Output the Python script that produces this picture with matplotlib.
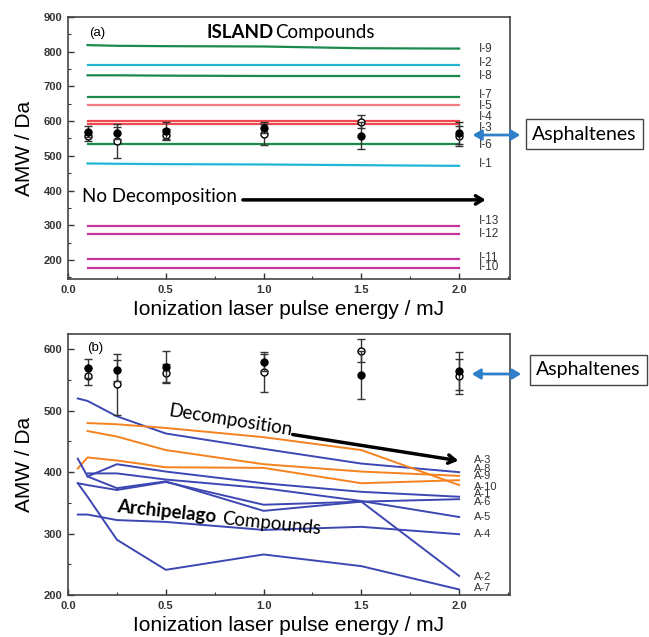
import numpy as np
import matplotlib.pyplot as plt
from matplotlib.patches import FancyArrowPatch
from matplotlib.ticker import MultipleLocator

# pulse energies (mJ)
energy_a = [0.1, 0.25, 0.5, 1.0, 1.5, 2.0]
energy_b = [0.05, 0.1, 0.25, 0.5, 1.0, 1.5, 2.0]

# asphaltene AMW, two sets of measurements with error bars
asph_filled = [569, 566, 572, 579, 558, 565]
asph_filled_err = [16, 17, 25, 14, 39, 31]
asph_open = [556, 543, 561, 563, 598, 556]
asph_open_err = [14, 50, 15, 33, 19, 29]

# island model compounds
island_names = ["I-9", "I-2", "I-8", "I-7", "I-5", "I-4", "I-3",
                "I-6", "I-1", "I-13", "I-12", "I-11", "I-10"]
i9 = [819, 817, 816, 815, 810, 809]
i2 = [762, 762, 762, 762, 762, 762]
i8 = [732, 732, 731, 730, 730, 730]
i7 = [670, 670, 670, 670, 670, 670]
i5 = [647, 647, 647, 647, 647, 647]
i4 = [600, 600, 600, 600, 600, 600]
i3 = [593, 593, 593, 593, 593, 593]
i6 = [534, 534, 534, 534, 534, 534]
i1 = [478, 477, 476, 475, 473, 471]
i13 = [298, 298, 298, 298, 298, 298]
i12 = [276, 276, 276, 276, 276, 276]
i11 = [202, 202, 202, 202, 202, 202]
i10 = [177, 177, 177, 177, 177, 177]
island_amw = [i9, i2, i8, i7, i5, i4, i3, i6, i1, i13, i12, i11, i10]
island_label_y = [808, 767, 731, 676, 644, 613, 580, 530, 475, 313, 275, 205, 181]

# archipelago model compounds (nan = not measured)
nan = np.nan
arch_names = ["A-3", "A-8", "A-9", "A-10", "A-1", "A-6", "A-5", "A-4", "A-2", "A-7"]
a3 = [520, 516, 491, 463, 438, 414, 400]
a8 = [nan, 467, 458, 436, 413, 401, 394]
a9 = [406, 424, 419, 408, 407, 382, 387]
a10 = [nan, 480, 478, 472, 457, 436, 379]
a1 = [nan, 393, 413, 401, 382, 368, 360]
a6 = [422, 393, 374, 385, 337, 352, 356]
a5 = [nan, 398, 398, 388, 374, 353, 327]
a4 = [331, 331, 322, 319, 306, 311, 299]
a2 = [382, 379, 371, 384, 347, 352, 231]
a7 = [382, 360, 290, 241, 266, 247, 209]
arch_amw = [a3, a8, a9, a10, a1, a6, a5, a4, a2, a7]
arch_label_y = [420, 405, 394, 376, 364, 352, 327, 300, 230, 212]

GREEN = "#1b8a4f"
CYAN = "#22b5d3"
RED = "#f0484f"
PINK = "#f27d80"
MAGENTA = "#c8359a"
BLUE = "#3d47b3"
ORANGE = "#f5821f"
island_colors = [GREEN, CYAN, GREEN, GREEN, PINK, RED, RED, GREEN, CYAN,
                 MAGENTA, MAGENTA, MAGENTA, MAGENTA]
arch_colors = [BLUE, ORANGE, ORANGE, ORANGE, BLUE, BLUE, BLUE, BLUE, BLUE, BLUE]

plt.rcParams["font.family"] = ["Liberation Sans", "DejaVu Sans"]
ANNOT = ["Lato", "DejaVu Sans"]
FS = 13.5
W, H = 649, 637

fig = plt.figure(figsize=(W / 100, H / 100), dpi=100)
ax_a = fig.add_axes([68 / W, 1 - 279 / H, 442 / W, 262 / H])
ax_b = fig.add_axes([68 / W, 1 - 595 / H, 442 / W, 261 / H])


def style_axes(ax):
    ax.set_xlim(0, 2.26)
    ax.xaxis.set_major_locator(MultipleLocator(0.5))
    ax.xaxis.set_minor_locator(MultipleLocator(0.25))
    ax.yaxis.set_major_locator(MultipleLocator(100))
    ax.yaxis.set_minor_locator(MultipleLocator(50))
    ax.tick_params(which="both", direction="in", top=False, right=False,
                   colors="#333333", labelsize=8, pad=4)
    ax.tick_params(which="major", length=4, width=1)
    ax.tick_params(which="minor", length=2.5, width=0.8)
    for lab in ax.get_xticklabels() + ax.get_yticklabels():
        lab.set_fontweight("bold")
    for sp in ax.spines.values():
        sp.set_color("#444444")
        sp.set_linewidth(1.2)
    ax.set_xlabel("Ionization laser pulse energy / mJ", fontsize=15, labelpad=4)
    ax.set_ylabel("AMW / Da", fontsize=15, labelpad=7)


def draw_asphaltenes(ax):
    ax.errorbar(energy_a, asph_open, yerr=asph_open_err, fmt="o", ms=5,
                mfc="white", mec="black", mew=1, ecolor="#333333",
                elinewidth=1, capsize=3, zorder=5)
    ax.errorbar(energy_a, asph_filled, yerr=asph_filled_err, fmt="o", ms=5,
                mfc="black", mec="black", ecolor="#333333",
                elinewidth=1, capsize=3, zorder=6)


# (a) island compounds
for name, vals, col, ly in zip(island_names, island_amw, island_colors, island_label_y):
    ax_a.plot(energy_a, vals, color=col, lw=1.6)
    ax_a.text(2.10, ly, name, fontsize=8.5, color="#333333", va="center")
draw_asphaltenes(ax_a)
ax_a.set_ylim(145, 900)
style_axes(ax_a)
ax_a.text(0.11, 855, "(a)", fontsize=9.5, va="center")
ax_a.text(0.71, 855, "ISLAND", fontsize=FS, fontweight="bold", family=ANNOT, va="center")
ax_a.text(1.06, 855, "Compounds", fontsize=FS, family=ANNOT, va="center")
ax_a.text(0.07, 382, "No Decomposition", fontsize=FS, family=ANNOT, va="center")
ax_a.annotate("", xy=(2.15, 373), xytext=(0.88, 373),
              arrowprops=dict(arrowstyle="->,head_length=0.5,head_width=0.3",
                              lw=2.5, color="black"))

# (b) archipelago compounds
for name, vals, col, ly in zip(arch_names, arch_amw, arch_colors, arch_label_y):
    ax_b.plot(energy_b, vals, color=col, lw=1.4)
    ax_b.text(2.075, ly, name, fontsize=8, color="#333333", va="center")
draw_asphaltenes(ax_b)
ax_b.set_ylim(200, 625)
style_axes(ax_b)
ax_b.text(0.10, 602, "(b)", fontsize=9.5, va="center")
ax_b.text(0.513, 501, "Decomposition", fontsize=FS, family=ANNOT, va="center",
          rotation=-9, rotation_mode="anchor")
ax_b.annotate("", xy=(2.01, 418), xytext=(1.135, 462),
              arrowprops=dict(arrowstyle="->,head_length=0.5,head_width=0.3",
                              lw=2.5, color="black"))
ax_b.text(0.252, 344, "Archipelago", fontsize=FS, fontweight="bold", family=ANNOT,
          va="center", rotation=-6, rotation_mode="anchor")
ax_b.text(0.79, 325, "Compounds", fontsize=FS, family=ANNOT,
          va="center", rotation=-6, rotation_mode="anchor")

# asphaltene callouts to the right of both panels
for (x0, x1, ya, xc, yc) in [(470, 523, 135, 584.5, 134), (469, 524, 374, 588.5, 370)]:
    fig.text(xc / W, 1 - yc / H, "Asphaltenes", fontsize=14, family=ANNOT,
             ha="center", va="center",
             bbox=dict(boxstyle="square,pad=0.33", fc="white", ec="#444444", lw=1))
    fig.add_artist(FancyArrowPatch((x0 / W, 1 - ya / H), (x1 / W, 1 - ya / H),
                                   transform=fig.transFigure,
                                   arrowstyle="<|-|>,head_length=5,head_width=3",
                                   lw=2, color="#2f80c8", zorder=10))

fig.savefig("out.png", dpi=100)
